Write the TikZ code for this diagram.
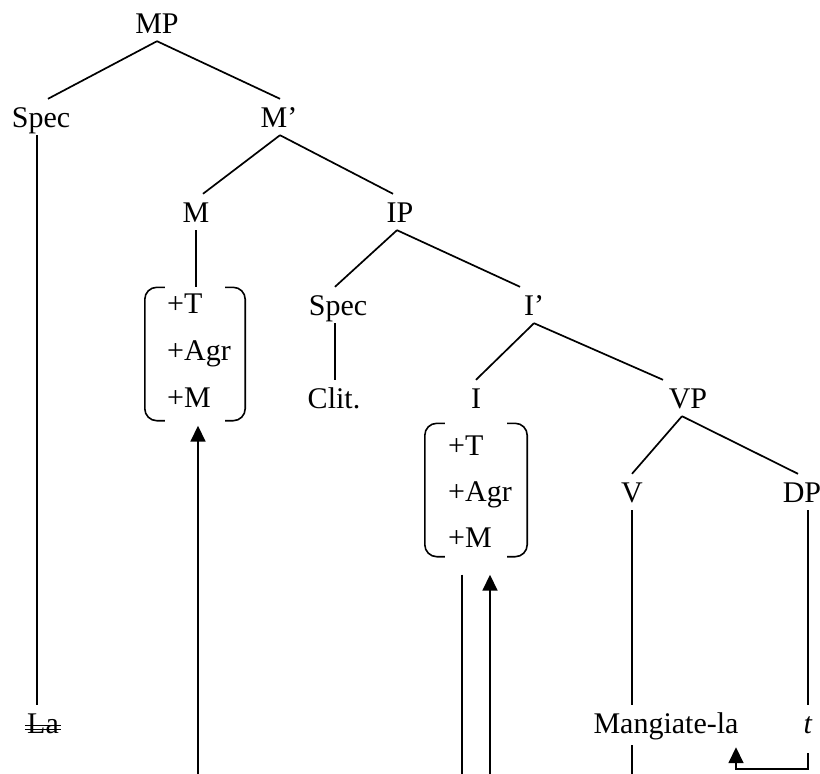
\documentclass[tikz,border=0pt]{standalone}
\usepackage{fontspec}
\setmainfont{Liberation Serif}
\usetikzlibrary{arrows.meta,calc}
\begin{document}
\begin{tikzpicture}[x=1pt,y=-1pt,
  lbl/.style={inner xsep=0pt, inner ysep=8pt, text height=20pt, text depth=0pt, anchor=base, font=\fontsize{30}{36}\selectfont},
  ft/.style={inner sep=0pt, anchor=base west, font=\fontsize{30}{36}\selectfont},
  fbox/.style={inner sep=0pt, minimum width=#1, minimum height=133pt},
  br/.style={line width=1.6pt, rounded corners=12pt},
  edge/.style={line width=1.7pt},
  arr/.style={line width=1.7pt, -{Triangle[width=15pt,length=16pt]}}
]
\useasboundingbox (0,0) rectangle (820,774);
\coordinate (bot) at (0,774);

% labels
\node[lbl] (MP) at (157,33) {MP};
\node[lbl] (Spec) at (41,127) {Spec};
\node[lbl] (Mbar) at (279,127) {M’};
\node[lbl] (M) at (196,222) {M};
\node[lbl] (IP) at (400,222) {IP};
\node[lbl] (Spec2) at (338,315) {Spec};
\node[lbl] (Ibar) at (534,315) {I’};
\node[lbl] (Clit) at (334,408) {Clit.};
\node[lbl] (I) at (476,408) {I};
\node[lbl] (VP) at (688,408) {VP};
\node[lbl] (V) at (632,502) {V};
\node[lbl] (DP) at (802,502) {DP};
\node[lbl] (La) at (43,733) {La};
\node[lbl] (Mang) at (666,733) {Mangiate-la};
\node[lbl] (t) at (808,733) {\textit{t}};

% feature boxes
\node[fbox=100pt] (fM) at (195,354) {};
\node[ft] (fMT) at (167,313) {+T};
\node[ft] (fMA) at (167,360) {+Agr};
\node[ft] (fMM) at (167,407) {+M};
\draw[br] ($(fM.north west)+(20,0)$) -- (fM.north west) -- (fM.south west) -- ++(20,0);
\draw[br] ($(fM.north east)+(-20,0)$) -- (fM.north east) -- (fM.south east) -- ++(-20,0);

\node[fbox=102pt] (fI) at (476,490) {};
\node[ft] (fIT) at (448,455) {+T};
\node[ft] (fIA) at (448,501) {+Agr};
\node[ft] (fIM) at (448,547) {+M};
\draw[br] ($(fI.north west)+(20,0)$) -- (fI.north west) -- (fI.south west) -- ++(20,0);
\draw[br] ($(fI.north east)+(-20,0)$) -- (fI.north east) -- (fI.south east) -- ++(-20,0);

% tree edges
\draw[edge] (MP.south) -- ($(Spec.north)+(7,0)$);
\draw[edge] (MP.south) -- ($(Mbar.north)+(1,0)$);
\draw[edge] ($(Mbar.south)+(1,0)$) -- ($(M.north)+(7,0)$);
\draw[edge] ($(Mbar.south)+(1,0)$) -- ($(IP.north)+(-7,0)$);
\draw[edge] (M.south) -- (M.south |- fM.north);
\draw[edge] ($(IP.south)+(-3,0)$) -- ($(Spec2.north)+(-3,0)$);
\draw[edge] ($(IP.south)+(-3,0)$) -- ($(Ibar.north)+(-14,0)$);
\draw[edge] ($(Spec2.south)+(-3,0)$) -- ($(Spec2.south |- Clit.north)+(-3,0)$);
\draw[edge] (Ibar.south) -- (I.north);
\draw[edge] (Ibar.south) -- ($(VP.north)+(-25,0)$);
\draw[edge] ($(VP.south)+(-6,0)$) -- (V.north);
\draw[edge] ($(VP.south)+(-6,0)$) -- ($(DP.north)+(-4,0)$);
\draw[edge] (V.south) -- (V.south |- Mang.north);
\draw[edge] ($(V.south |- Mang.south)+(0,4)$) -- (V.south |- bot);
\draw[edge] ($(DP.south)+(6,0)$) -- (t.north);
\draw[edge] ($(Spec.south)+(-4,0)$) -- ($(Spec.south |- La.north)+(-4,0)$);

% strike-through of La
\draw[line width=1pt] ($(La.base west)+(-2,-8)$) -- ($(La.base east)+(2,-8)$);
\draw[line width=1pt] ($(La.base west)+(-2,-4)$) -- ($(La.base east)+(2,-4)$);

% movement arrows
\draw[arr] ($(fM.south |- bot)+(3,0)$) -- ($(fM.south)+(3,5)$);
\draw[edge] ($(fI.south)+(-14,18)$) -- ($(fI.south |- bot)+(-14,0)$);
\draw[arr] ($(fI.south |- bot)+(14,0)$) -- ($(fI.south)+(14,18)$);
\coordinate (lp) at (736,769);
\draw[arr] ($(t.south)+(0,12)$) |- (lp) -- ($(lp |- Mang.south)+(0,6)$);
\end{tikzpicture}
\end{document}
